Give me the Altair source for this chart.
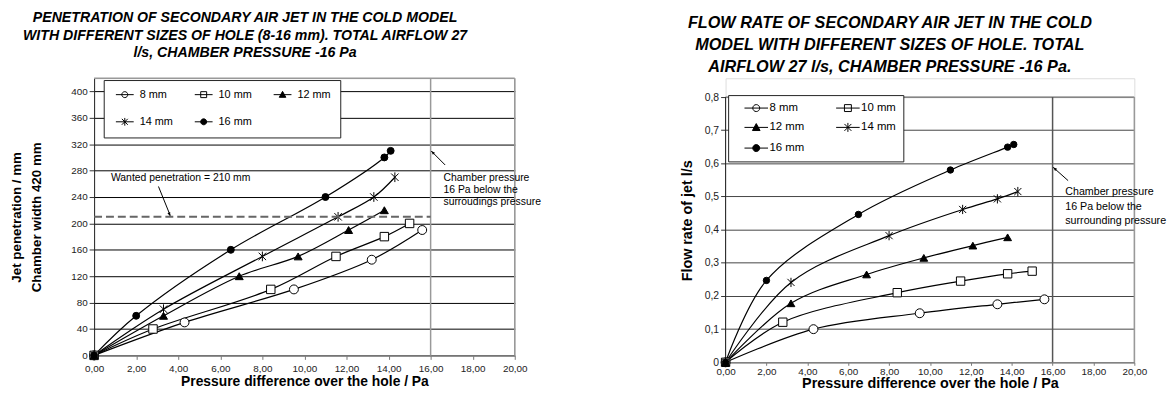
import altair as alt
import pandas as pd

FONT = "Liberation Sans"
SERIES = ["8 mm", "10 mm", "12 mm", "14 mm", "16 mm"]

# ---------- Left chart: jet penetration (mm) vs pressure difference (Pa) ----------
pen_x_8 = [0, 4.3, 9.5, 13.2, 15.6]
pen_y_8 = [0, 50, 100, 145, 190]
pen_x_10 = [0, 2.8, 8.4, 11.5, 13.8, 15.0]
pen_y_10 = [0, 40, 100, 150, 180, 200]
pen_x_12 = [0, 3.3, 6.9, 9.7, 12.1, 13.8]
pen_y_12 = [0, 60, 120, 150, 190, 220]
pen_x_14 = [0, 3.3, 8.0, 11.6, 13.3, 14.3]
pen_y_14 = [0, 70, 150, 210, 240, 270]
pen_x_16 = [0, 2.0, 6.5, 11.0, 13.8, 14.1]
pen_y_16 = [0, 60, 160, 240, 300, 310]

# ---------- Right chart: flow rate of jet (l/s) vs pressure difference (Pa) ----------
flow_x_8 = [0, 4.3, 9.5, 13.3, 15.6]
flow_y_8 = [0, 0.100, 0.148, 0.175, 0.190]
flow_x_10 = [0, 2.8, 8.4, 11.5, 13.8, 15.0]
flow_y_10 = [0, 0.121, 0.210, 0.245, 0.267, 0.275]
flow_x_12 = [0, 3.2, 6.9, 9.7, 12.1, 13.8]
flow_y_12 = [0, 0.178, 0.265, 0.315, 0.352, 0.377]
flow_x_14 = [0, 3.2, 8.0, 11.6, 13.3, 14.3]
flow_y_14 = [0, 0.241, 0.382, 0.461, 0.493, 0.515]
flow_x_16 = [0, 2.0, 6.5, 11.0, 13.8, 14.1]
flow_y_16 = [0, 0.247, 0.446, 0.580, 0.649, 0.657]

wanted_penetration = 210
chamber_pressure = 16
x_ticks = [0, 2, 4, 6, 8, 10, 12, 14, 16, 18, 20]
pen_ticks = [0, 40, 80, 120, 160, 200, 240, 280, 320, 360, 400]
flow_ticks = [0, 0.1, 0.2, 0.3, 0.4, 0.5, 0.6, 0.7, 0.8]


def frame(pairs):
    rows = []
    for name, (xs, ys) in zip(SERIES, pairs):
        for xv, yv in zip(xs, ys):
            rows.append({"series": name, "x": xv, "y": yv})
    return pd.DataFrame(rows)


pen_df = frame([(pen_x_8, pen_y_8), (pen_x_10, pen_y_10), (pen_x_12, pen_y_12),
                (pen_x_14, pen_y_14), (pen_x_16, pen_y_16)])
flow_df = frame([(flow_x_8, flow_y_8), (flow_x_10, flow_y_10), (flow_x_12, flow_y_12),
                 (flow_x_14, flow_y_14), (flow_x_16, flow_y_16)])

STAR = "M-1,-1L1,1M-1,1L1,-1M0,-1.3L0,1.3"
CIRC = "M-1,0A1,1,0,1,0,1,0A1,1,0,1,0,-1,0"
SQR = "M-1,-1L1,-1L1,1L-1,1Z"
TRI = "M0,-1.1L1.1,0.9L-1.1,0.9Z"
DATA_SHAPES = ["circle", "square", "triangle-up", STAR, "circle"]
FILLS = ["white", "white", "black", "white", "black"]
ARROW = "M-1,2.6L0,0L1,2.6Z"


def legend_shapes(k):
    line = "M%s,0L%s,0" % (-k, k)
    return [line + CIRC, line + SQR, line + TRI, line + STAR, line + CIRC]


X_LABELS = "replace(format(datum.value, '.2f'), '.', ',')"


def panel(df, c):
    xenc = alt.X("x:Q", scale=alt.Scale(domain=[0, 20], nice=False, zero=True),
                 title="Pressure difference over the hole / Pa",
                 axis=alt.Axis(values=x_ticks, labelExpr=X_LABELS, grid=False, labelFlush=False,
                               tickSize=c["xtick"], tickColor="#777", domainColor="#888",
                               labelFontSize=c["xlab"], labelColor="#222",
                               labelPadding=c["xlpad"], labelFont=FONT, titleFont=FONT,
                               titleFontSize=c["xtitle"], titleFontWeight="bold",
                               titleColor="black", titlePadding=c["xtpad"]))
    yenc = alt.Y("y:Q", scale=alt.Scale(domain=[0, c["ymax"]], nice=False, zero=True),
                 title=c["ytitle"],
                 axis=alt.Axis(values=c["yticks"], labelExpr=c["ylabels"], grid=True,
                               labelFlush=False, labelOverlap=False,
                               gridColor=c["grid"], gridWidth=1, tickSize=5,
                               tickColor="#333", domain=c["ydomain"], domainColor="#222",
                               labelFontSize=c["ylab"], labelColor="#222", labelPadding=2,
                               labelFont=FONT, titleFont=FONT,
                               titleFontSize=c["ytsize"], titleFontWeight="bold",
                               titleColor="black", titlePadding=c["ytpad"],
                               titleLineHeight=21))
    ytop = c["ytop"]

    def rule(rows, **kw):
        d = pd.DataFrame(rows)
        enc = dict(x=xenc, y=yenc)
        if "x2" in d:
            enc["x2"] = "x2:Q"
        if "y2" in d:
            enc["y2"] = "y2:Q"
        return alt.Chart(d).mark_rule(**kw).encode(**enc)

    def head(xv, yv, ang):
        return alt.Chart(pd.DataFrame({"x": [xv], "y": [yv]})).mark_point(
            shape=ARROW, size=9, filled=True, color="black", opacity=1, angle=ang,
            strokeWidth=0.5).encode(x=xenc, y=yenc)

    def text(xv, yv, txt, **kw):
        return alt.Chart(pd.DataFrame({"x": [xv], "y": [yv]})).mark_text(
            text=txt, align="left", font=FONT, color="black", **kw).encode(x=xenc, y=yenc)

    base = alt.Chart(df)
    lines = base.mark_line(interpolate="catmull-rom", color="black", strokeWidth=1.2).encode(
        x=xenc, y=yenc, detail="series:N")
    pts = base.mark_point(opacity=1, stroke="black", strokeWidth=1).encode(
        x=xenc, y=yenc,
        shape=alt.Shape("series:N", scale=alt.Scale(domain=SERIES, range=DATA_SHAPES), legend=None),
        fill=alt.Fill("series:N", scale=alt.Scale(domain=SERIES, range=FILLS), legend=None),
        size=alt.Size("series:O", scale=alt.Scale(domain=SERIES, range=c["sizes"]), legend=None))
    leg = c["leg"]
    lg = alt.Legend(orient="none", legendX=leg["x"], legendY=leg["y"], columns=leg["cols"],
                    direction="horizontal",
                    title=None, symbolSize=leg["size"], symbolStrokeWidth=1,
                    symbolOffset=leg["soff"], labelOffset=leg["loff"], labelFont=FONT,
                    labelFontSize=leg["font"], labelColor="black",
                    columnPadding=leg["cpad"], rowPadding=leg["rpad"], padding=leg["pad"],
                    strokeColor="#222", fillColor="white")
    legend_layer = base.transform_filter("false").mark_point(
        opacity=1, stroke="black", strokeWidth=1).encode(
        x=xenc, y=yenc,
        shape=alt.Shape("series:N", scale=alt.Scale(domain=SERIES, range=legend_shapes(leg["k"])), legend=lg),
        fill=alt.Fill("series:N", scale=alt.Scale(domain=SERIES, range=FILLS), legend=lg))

    frame_top = rule({"x": [0], "x2": [20], "y": [ytop]}, color="#999", strokeWidth=1.5)
    frame_right = rule({"x": [20], "y": [0], "y2": [ytop]}, color="#999", strokeWidth=1.5)
    vline = rule({"x": [chamber_pressure], "y": [0], "y2": [ytop]},
                 color=c["vcolor"], strokeWidth=1.5)
    layers = [frame_top, frame_right, vline]
    if c["left_line"]:
        layers.append(rule({"x": [0], "y": [0], "y2": [ytop]}, color="#222", strokeWidth=1))
    layers += [lines, pts]
    if c.get("wanted"):
        layers.append(rule({"x": [0], "x2": [chamber_pressure], "y": [wanted_penetration]},
                           color="#666", strokeWidth=2, strokeDash=[8, 4]))
        layers.append(text(0.8, 268.6, "Wanted penetration = 210 mm", baseline="middle",
                           fontSize=10.5))
        layers.append(rule({"x": [3.06], "x2": [3.62], "y": [256], "y2": [212]},
                           color="black", strokeWidth=1))
        layers.append(head(3.62, 211, 158))
    layers.append(text(c["chx"], c["chy"], c["chtext"], baseline="top",
                       fontSize=c["chfont"], lineHeight=c["chlh"]))
    layers.append(rule({"x": [c["atail"][0]], "x2": [c["atip"][0]],
                        "y": [c["atail"][1]], "y2": [c["atip"][1]]},
                       color="black", strokeWidth=1))
    layers.append(head(c["atip"][0], c["atip"][1], c["aangle"]))
    layers.append(legend_layer)
    return alt.layer(*layers).resolve_scale(shape="independent", fill="independent",
                                            size="independent").properties(
        width=c["w"], height=c["h"], title=c["title"])


left = panel(pen_df, dict(
    ymax=420, ytop=420, yticks=pen_ticks, ylabels="format(datum.value, 'd')",
    ytitle=["Jet penetration / mm", "Chamber width 420 mm"], ytsize=13.5, ytpad=27,
    grid="black", ydomain=True, left_line=False,
    sizes=[81, 49, 49, 64, 64],
    leg=dict(x=9.7, y=1.8, cols=3, size=36, soff=6.8, loff=9.5, font=11, cpad=18.7,
             rpad=15.7, pad=9, k=3),
    title=alt.Title(["PENETRATION OF SECONDARY AIR JET IN THE COLD MODEL",
                     "WITH DIFFERENT SIZES OF HOLE (8-16 mm). TOTAL AIRFLOW 27",
                     "l/s, CHAMBER PRESSURE -16 Pa"],
                    font=FONT, fontSize=14.3, fontStyle="italic", fontWeight="bold",
                    lineHeight=18, anchor="middle", frame="group", dx=-60, offset=17,
                    color="black"),
    w=425, h=280, xtick=4, xlab=10, ylab=10, xlpad=4, xtitle=14, xtpad=1, vcolor="#999",
    chtext=["Chamber pressure", "\u00a016 Pa below the", "surroudings pressure"],
    chx=16.61, chy=276.9, chfont=10.5, chlh=12.3,
    atail=(16.69, 288.6), atip=(16.03, 309.7), aangle=315, wanted=True))

right = panel(flow_df, dict(
    ymax=0.8567, ytop=0.8, yticks=flow_ticks,
    ylabels="datum.value == 0 ? '0' : replace(format(datum.value, '.1f'), '.', ',')",
    ytitle="Flow rate of jet l/s", ytsize=14.5, ytpad=10,
    grid="#444", ydomain=False, left_line=True,
    sizes=[81, 42, 42, 64, 56],
    leg=dict(x=2.6, y=17, cols=2, size=49, soff=15.65, loff=7.55, font=11.5, cpad=22.6,
             rpad=6.9, pad=7, k=3.4),
    title=alt.Title(["FLOW RATE OF SECONDARY AIR JET IN THE COLD",
                     "MODEL WITH DIFFERENT SIZES OF HOLE. TOTAL",
                     "AIRFLOW 27 l/s, CHAMBER PRESSURE -16 Pa."],
                    font=FONT, fontSize=16.4, fontStyle="italic", fontWeight="bold",
                    lineHeight=22.5, anchor="middle", frame="group", dx=-40.5, offset=2.5,
                    color="black"),
    w=413, h=287, xtick=3, xlab=10, ylab=10.5, xlpad=1, xtitle=14.5, xtpad=0,
    vcolor="#555",
    chtext=["Chamber pressure", "\u00a016 Pa below the", "surrounding pressure"],
    chx=16.62, chy=0.530, chfont=10.8, chlh=14.2,
    atail=(16.76, 0.548), atip=(16.03, 0.588), aangle=311.6))

chart = alt.hconcat(left, right, spacing=137).properties(
    padding={"left": 0, "top": 0, "right": 0, "bottom": 0}
).configure_view(stroke=None).configure(font=FONT)

chart.save("out.html", embed_options={"renderer": "svg", "actions": False})
